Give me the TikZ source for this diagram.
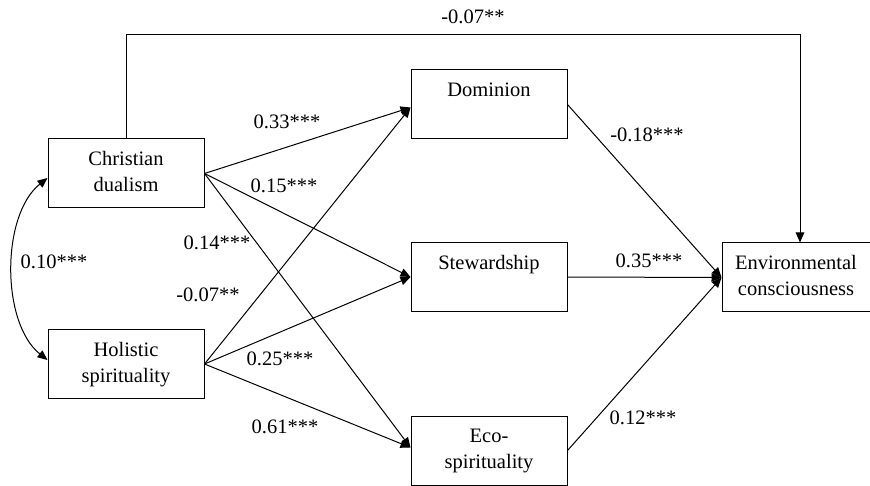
\documentclass[tikz,border=0pt]{standalone}
\usepackage{fontspec}
\setmainfont{Liberation Serif}
\usetikzlibrary{arrows.meta}
\begin{document}
\begin{tikzpicture}[x=1pt,y=-1pt,
  box/.style={draw, line width=1pt, minimum width=156pt, minimum height=69pt, inner sep=0pt, align=center, font=\fontsize{20.5}{26}\selectfont},
  lbl/.style={inner sep=0pt, font=\fontsize{20.5}{24}\selectfont},
  arr/.style={line width=1pt, -{Triangle[length=10pt,width=8.5pt]}},
  darr/.style={line width=1pt, {Triangle[length=10pt,width=8.5pt]}-{Triangle[length=10pt,width=8.5pt]}}]
\useasboundingbox (0,0) rectangle (870,486);
\fill[white] (0,0) rectangle (870,486);
\node[box] (cd) at (126,173.5) {\strut Christian\\\strut dualism};
\node[box] (hs) at (126,364) {\strut Holistic\\\strut spirituality};
\node[box] (dom) at (489,104.5) {\strut Dominion\\\strut};
\node[box] (st) at (489,277) {\strut Stewardship\\\strut};
\node[box] (eco) at (489,450.5) {\strut Eco-\\\strut spirituality};
\node[box, minimum width=160pt] (env) at (802,277.5) {\hspace*{-12pt}\strut Environmental\\\hspace*{-12pt}\strut consciousness};
\coordinate (tc) at (800,35);
\draw[arr] (cd.north) |- (tc) -- (env.north -| tc);
\draw[darr] ([yshift=-4.5pt]cd.west) .. controls (1,215) and (1,323) .. ([yshift=4pt]hs.west);
\draw[arr] (cd.east) -- ([yshift=-3pt]dom.west);
\draw[arr] (cd.east) -- (st.west);
\draw[arr] (cd.east) -- ([yshift=3pt]eco.west);
\draw[arr] (hs.east) -- ([yshift=-3pt]dom.west);
\draw[arr] (hs.east) -- (st.west);
\draw[arr] (hs.east) -- ([yshift=3pt]eco.west);
\draw[arr] (dom.east) -- (env.west);
\draw[arr] (st.east) -- (env.west);
\draw[arr] (eco.east) -- (env.west);
\node[lbl] (l1) at (473,17) {-0.07**};
\node[lbl] (l2) at (287,122) {0.33***};
\node[lbl] (l3) at (284,186) {0.15***};
\node[lbl] (l4) at (217,243) {0.14***};
\node[lbl] (l5) at (208,295) {-0.07**};
\node[lbl] (l6) at (280,359) {0.25***};
\node[lbl] (l7) at (285,427) {0.61***};
\node[lbl] (l8) at (54,262) {0.10***};
\node[lbl] (l9) at (647,135) {-0.18***};
\node[lbl] (l10) at (649,261) {0.35***};
\node[lbl] (l11) at (643,418) {0.12***};
\end{tikzpicture}
\end{document}
